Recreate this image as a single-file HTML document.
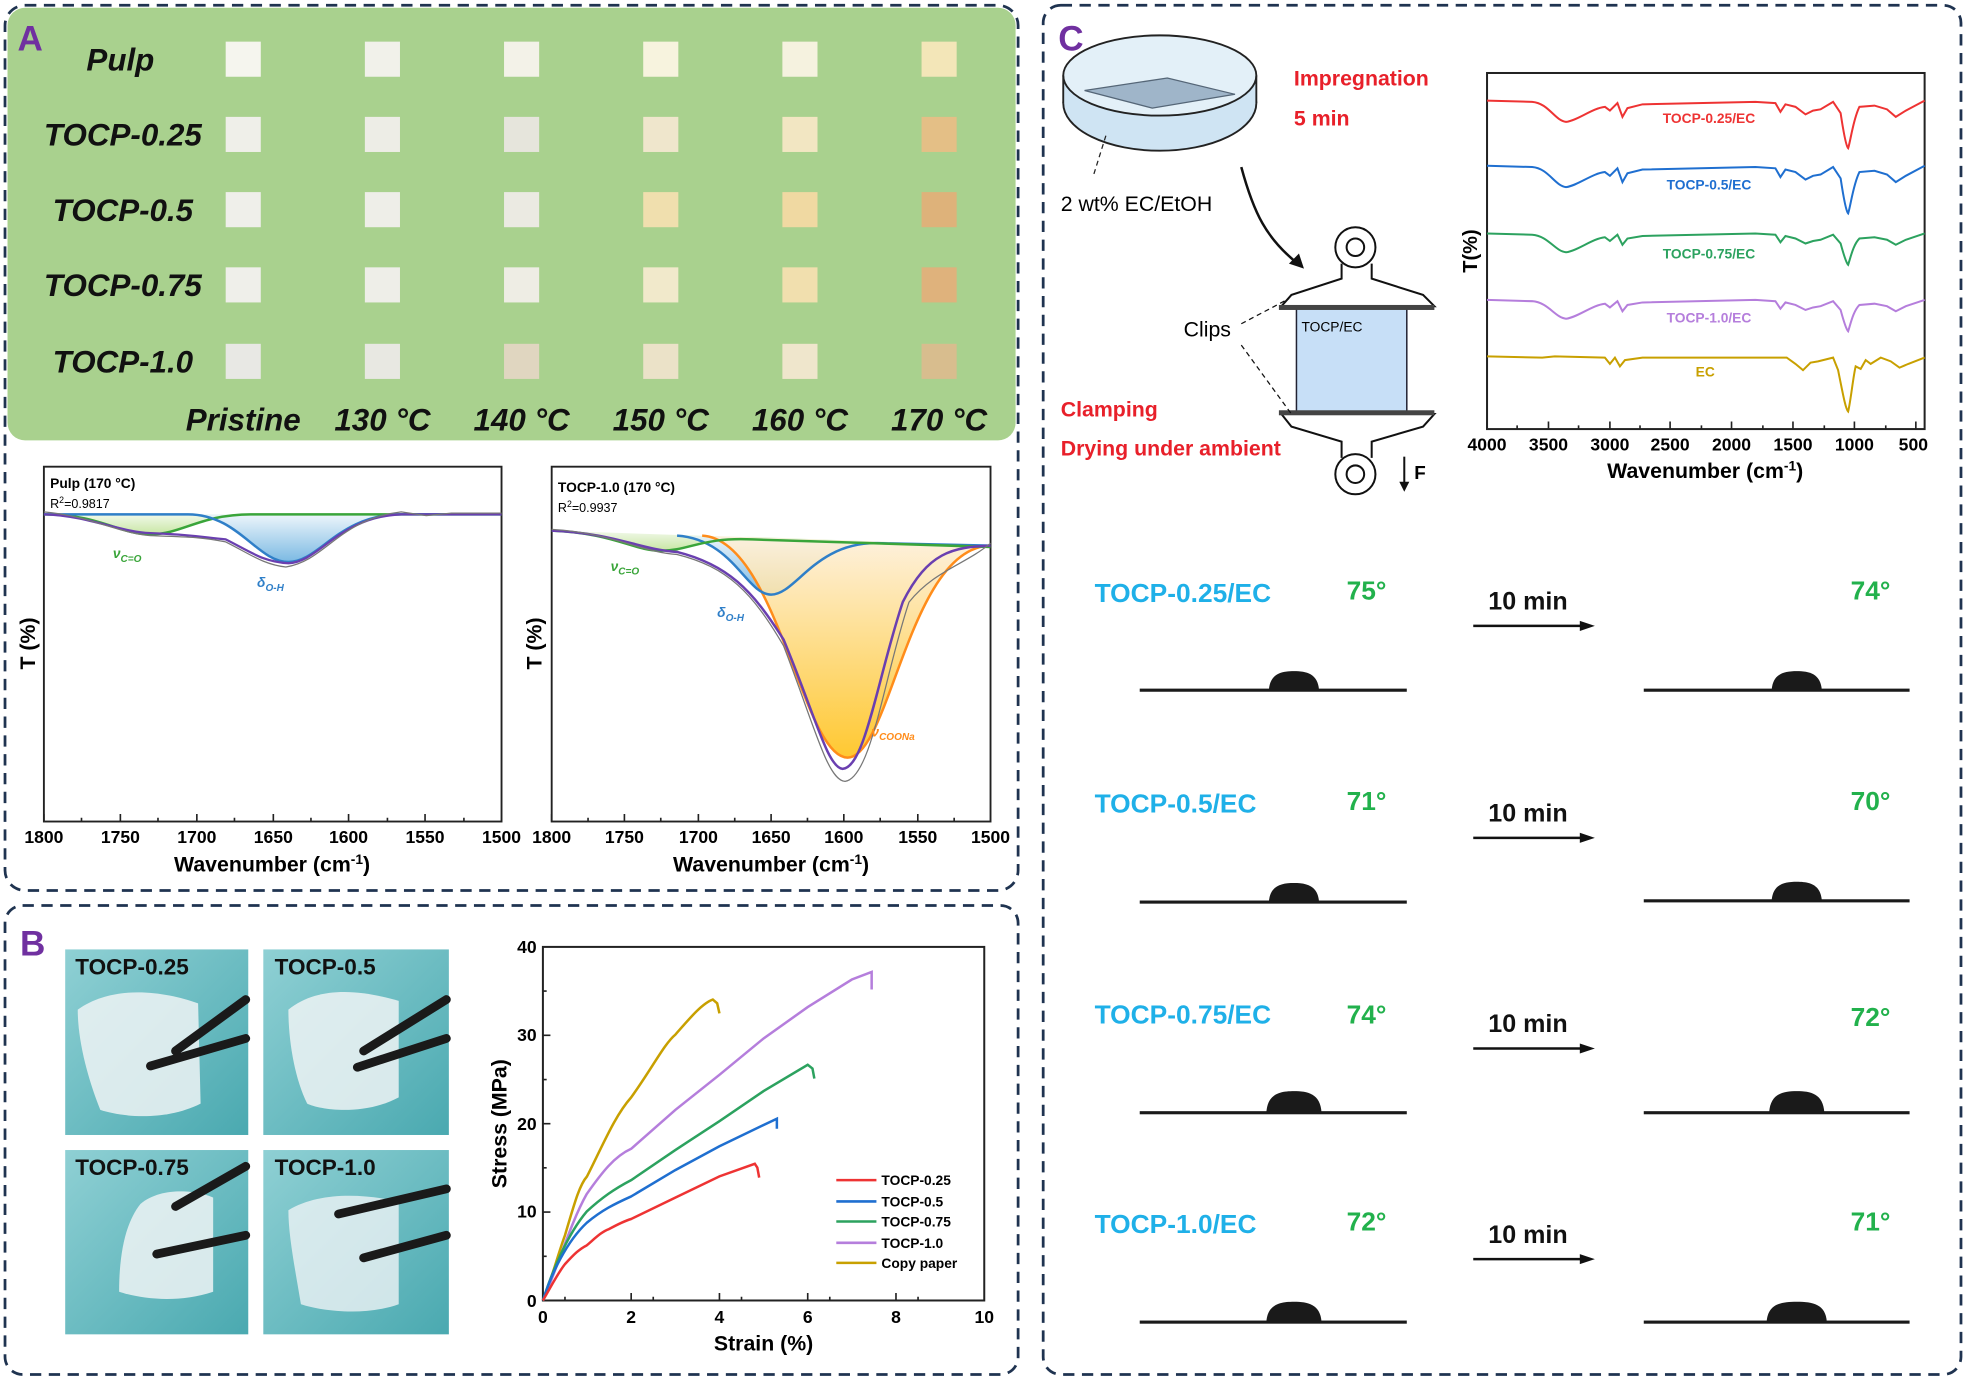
<!DOCTYPE html>
<html><head><meta charset="utf-8"><style>
html,body{margin:0;padding:0;background:#fff}
svg{display:block}
text{font-family:"Liberation Sans",Arial,sans-serif}
</style></head><body>
<svg width="1966" height="1381" viewBox="0 0 1568 1101" xmlns="http://www.w3.org/2000/svg">
<defs>
<linearGradient id="gB" x1="0" y1="0" x2="0" y2="1"><stop offset="0" stop-color="#e8f3fa"/><stop offset="1" stop-color="#5aa8dc"/></linearGradient>
<linearGradient id="gG" x1="0" y1="0" x2="0" y2="1"><stop offset="0" stop-color="#eef7e4"/><stop offset="1" stop-color="#b9e08c"/></linearGradient>
<linearGradient id="gO" x1="0" y1="0" x2="0" y2="1"><stop offset="0" stop-color="#fdf0dc"/><stop offset="1" stop-color="#ffc21a"/></linearGradient>
<linearGradient id="teal" x1="0" y1="0" x2="1" y2="1"><stop offset="0" stop-color="#8fd0d4"/><stop offset="1" stop-color="#4aa9b0"/></linearGradient>
<path id="sp" d="M1186,80 L1222,81 C1235,82 1240,96 1249,97 C1258,96 1270,86 1280,85 L1284,88 L1290,82 L1294,93 L1298,86 L1310,83 L1400,81 L1416,82 L1420,89 L1424,83 L1432,85 L1440,91 L1446,88 L1452,87 L1462,81 L1468,90 C1471,110 1473,117 1474,118 C1476,112 1478,95 1483,85 L1495,84 L1505,87 L1512,93 L1520,88 L1535,80"/>
</defs>
<!-- Panel A -->
<rect x="4" y="4" width="808" height="706" rx="16" fill="none" stroke="#1f3350" stroke-width="2.2" stroke-dasharray="9,6"/>
<rect x="6" y="6" width="804" height="345" rx="14" fill="#a9d18e"/>
<text x="14" y="40" font-size="28" font-weight="bold" fill="#7030a0">A</text>
<g font-size="25" font-weight="bold" font-style="italic" fill="#111" text-anchor="middle">
<text x="96" y="56">Pulp</text><text x="98" y="116">TOCP-0.25</text><text x="98" y="176">TOCP-0.5</text><text x="98" y="236">TOCP-0.75</text><text x="98" y="297">TOCP-1.0</text>
<text x="194" y="343">Pristine</text><text x="305" y="343">130 °C</text><text x="416" y="343">140 °C</text><text x="527" y="343">150 °C</text><text x="638" y="343">160 °C</text><text x="749" y="343">170 °C</text>
</g>
<g>
<rect x="180" y="33" width="28" height="28" fill="#f5f5ee"/><rect x="291" y="33" width="28" height="28" fill="#f1f1ea"/><rect x="402" y="33" width="28" height="28" fill="#f3f2e8"/><rect x="513" y="33" width="28" height="28" fill="#f7f3de"/><rect x="624" y="33" width="28" height="28" fill="#f5f2df"/><rect x="735" y="33" width="28" height="28" fill="#f3e6b8"/>
<rect x="180" y="93" width="28" height="28" fill="#efefe9"/><rect x="291" y="93" width="28" height="28" fill="#ededE6"/><rect x="402" y="93" width="28" height="28" fill="#e6e5dc"/><rect x="513" y="93" width="28" height="28" fill="#efe6cc"/><rect x="624" y="93" width="28" height="28" fill="#f2e6c2"/><rect x="735" y="93" width="28" height="28" fill="#e4bf86"/>
<rect x="180" y="153" width="28" height="28" fill="#efefea"/><rect x="291" y="153" width="28" height="28" fill="#eeeee8"/><rect x="402" y="153" width="28" height="28" fill="#ebeae2"/><rect x="513" y="153" width="28" height="28" fill="#f0dfae"/><rect x="624" y="153" width="28" height="28" fill="#f0d9a2"/><rect x="735" y="153" width="28" height="28" fill="#deb27a"/>
<rect x="180" y="213" width="28" height="28" fill="#efefea"/><rect x="291" y="213" width="28" height="28" fill="#eeeee8"/><rect x="402" y="213" width="28" height="28" fill="#eeede4"/><rect x="513" y="213" width="28" height="28" fill="#f1e9cb"/><rect x="624" y="213" width="28" height="28" fill="#f1dfae"/><rect x="735" y="213" width="28" height="28" fill="#dfb27c"/>
<rect x="180" y="274" width="28" height="28" fill="#e8e8e4"/><rect x="291" y="274" width="28" height="28" fill="#e8e8e2"/><rect x="402" y="274" width="28" height="28" fill="#e0d6c0"/><rect x="513" y="274" width="28" height="28" fill="#ebe2c8"/><rect x="624" y="274" width="28" height="28" fill="#efe6cc"/><rect x="735" y="274" width="28" height="28" fill="#d8bd8e"/>
</g>
<!-- left fit plot -->
<rect x="35" y="372" width="365" height="283" fill="none" stroke="#222" stroke-width="1.5"/>
<path d="M35,410 C80,410 95,426 120,426 C145,426 160,410 200,410 Z" fill="url(#gG)" opacity="0.8"/>
<path d="M150,410 C190,410 205,448 230,448 C255,448 270,410 320,410 Z" fill="url(#gB)" opacity="0.8"/>
<path d="M35,410 C80,410 95,426 120,426 C145,426 160,410 200,410 L400,410" fill="none" stroke="#3aa53a" stroke-width="2"/>
<path d="M35,410 L150,410 C190,410 205,448 230,448 C255,448 270,410 320,410 L400,410" fill="none" stroke="#2f7fc8" stroke-width="2"/>
<path d="M35,410 C70,411 95,424 120,425 C150,426 160,428 180,430 C200,440 210,448 230,449 C255,448 270,412 320,410 L400,410" fill="none" stroke="#6a3fb0" stroke-width="1.8"/>
<path d="M35,408 C70,411 95,425 120,427 C150,428 160,428 180,432 C200,442 210,450 228,452 C260,447 270,414 320,408 L340,411 L360,409 L400,409" fill="none" stroke="#777" stroke-width="1"/>
<text x="40" y="389" font-size="11" font-weight="bold">Pulp (170 °C)</text>
<text x="40" y="405" font-size="10">R<tspan font-size="7" dy="-4">2</tspan><tspan dy="4">=0.9817</tspan></text>
<text x="90" y="445" font-size="11" fill="#3aa53a" font-style="italic" font-weight="bold">ν<tspan font-size="8" dy="3">C=O</tspan></text>
<text x="205" y="468" font-size="11" fill="#2f7fc8" font-style="italic" font-weight="bold">δ<tspan font-size="8" dy="3">O-H</tspan></text>
<!-- right fit plot -->
<rect x="440" y="372" width="350" height="283" fill="none" stroke="#222" stroke-width="1.5"/>
<path d="M440,423 C490,425 505,439 527,439 C550,439 560,428 600,428 L790,435 Z" fill="url(#gG)" opacity="0.8"/>
<path d="M540,427 C585,430 595,474 615,474 C635,474 650,432 700,432 Z" fill="url(#gB)" opacity="0.8"/>
<path d="M560,427 C620,430 640,604 676,604 C710,604 725,436 790,435 Z" fill="url(#gO)" opacity="0.9"/>
<path d="M560,427 C620,430 640,604 676,604 C710,604 725,436 790,435" fill="none" stroke="#ff8c1a" stroke-width="2"/>
<path d="M540,427 C585,430 595,474 615,474 C635,474 650,432 700,433 L790,435" fill="none" stroke="#2f7fc8" stroke-width="2"/>
<path d="M440,423 C490,425 505,439 527,439 C550,439 560,428 600,430 L790,436" fill="none" stroke="#3aa53a" stroke-width="2"/>
<path d="M440,423 C490,425 510,438 540,440 C580,450 600,470 625,510 C650,570 660,612 672,613 C690,612 700,540 720,480 C740,440 760,436 790,435" fill="none" stroke="#6a3fb0" stroke-width="2"/>
<path d="M440,422 C490,425 510,440 540,442 C580,452 600,472 625,515 C650,580 660,622 674,623 C695,620 705,540 725,480 C745,455 770,450 790,433" fill="none" stroke="#777" stroke-width="1"/>
<text x="445" y="392" font-size="11" font-weight="bold">TOCP-1.0 (170 °C)</text>
<text x="445" y="408" font-size="10">R<tspan font-size="7" dy="-4">2</tspan><tspan dy="4">=0.9937</tspan></text>
<text x="487" y="455" font-size="11" fill="#3aa53a" font-style="italic" font-weight="bold">ν<tspan font-size="8" dy="3">C=O</tspan></text>
<text x="572" y="492" font-size="11" fill="#2f7fc8" font-style="italic" font-weight="bold">δ<tspan font-size="8" dy="3">O-H</tspan></text>
<text x="695" y="587" font-size="11" fill="#ff8c1a" font-style="italic" font-weight="bold">ν<tspan font-size="8" dy="3">COONa</tspan></text>
<g stroke="#222" stroke-width="1.3">
<path d="M35,655v-6M65,655v-3M96,655v-6M126,655v-3M157,655v-6M187,655v-3M218,655v-6M248,655v-3M278,655v-6M309,655v-3M339,655v-6M370,655v-3"/>
<path d="M440,655v-6M469,655v-3M498,655v-6M527,655v-3M557,655v-6M586,655v-3M615,655v-6M644,655v-3M673,655v-6M702,655v-3M732,655v-6M761,655v-3"/>
</g>
<g font-size="14" font-weight="bold" text-anchor="middle">
<text x="35" y="672">1800</text><text x="96" y="672">1750</text><text x="157" y="672">1700</text><text x="218" y="672">1650</text><text x="278" y="672">1600</text><text x="339" y="672">1550</text><text x="400" y="672">1500</text>
<text x="440" y="672">1800</text><text x="498" y="672">1750</text><text x="557" y="672">1700</text><text x="615" y="672">1650</text><text x="673" y="672">1600</text><text x="732" y="672">1550</text><text x="790" y="672">1500</text>
<text x="217" y="695" font-size="17">Wavenumber (cm<tspan font-size="11" dy="-6">-1</tspan><tspan dy="6">)</tspan></text>
<text x="615" y="695" font-size="17">Wavenumber (cm<tspan font-size="11" dy="-6">-1</tspan><tspan dy="6">)</tspan></text>
<text transform="translate(28,513) rotate(-90)" font-size="17">T (%)</text>
<text transform="translate(432,513) rotate(-90)" font-size="17">T (%)</text>
</g>
<!-- Panel B -->
<rect x="4" y="722" width="808" height="374" rx="14" fill="none" stroke="#1f3350" stroke-width="2.2" stroke-dasharray="9,6"/>
<text x="16" y="762" font-size="28" font-weight="bold" fill="#7030a0">B</text>
<g>
<rect x="52" y="757" width="146" height="148" fill="url(#teal)"/><rect x="210" y="757" width="148" height="148" fill="url(#teal)"/>
<rect x="52" y="917" width="146" height="147" fill="url(#teal)"/><rect x="210" y="917" width="148" height="147" fill="url(#teal)"/>
<path d="M62,805 C90,785 130,790 158,800 L160,880 C130,895 95,890 80,885 C70,860 62,830 62,805Z" fill="#eef3f5" opacity="0.85"/>
<path d="M230,805 C255,785 290,790 318,798 L318,875 C290,890 255,885 245,880 C235,860 230,830 230,805Z" fill="#eef3f5" opacity="0.85"/>
<path d="M112,960 C130,945 160,950 170,955 L170,1030 C140,1040 110,1035 95,1030 C95,1000 100,975 112,960Z" fill="#eef3f5" opacity="0.85"/>
<path d="M230,965 C255,950 290,952 318,958 L318,1040 C290,1050 255,1045 240,1040 C235,1010 230,985 230,965Z" fill="#eef3f5" opacity="0.8"/>
<g stroke="#1a1a1a" stroke-width="7" stroke-linecap="round">
<path d="M140,838 L196,797M120,850 L196,828M290,838 L356,797M285,851 L356,828M140,962 L196,930M125,1000 L196,985M270,968 L356,948M290,1003 L356,985"/>
</g>
<g font-size="18" font-weight="bold" fill="#111"><text x="60" y="777">TOCP-0.25</text><text x="219" y="777">TOCP-0.5</text><text x="60" y="937">TOCP-0.75</text><text x="219" y="937">TOCP-1.0</text></g>
</g>
<!-- stress strain -->
<rect x="433" y="755" width="352" height="282" fill="none" stroke="#222" stroke-width="1.6"/>
<g stroke="#222" stroke-width="1.3">
<path d="M433,1037v-6M450.6,1037v-3M503.4,1037v-6M521,1037v-3M573.8,1037v-6M591.4,1037v-3M644.2,1037v-6M661.8,1037v-3M714.6,1037v-6M732.2,1037v-3"/>
<path d="M433,1037h6M433,1001.8h3M433,966.5h6M433,931.2h3M433,896h6M433,860.8h3M433,825.5h6M433,790.2h3"/>
</g>
<g font-size="14" font-weight="bold" text-anchor="middle">
<text x="433" y="1055">0</text><text x="503.4" y="1055">2</text><text x="573.8" y="1055">4</text><text x="644.2" y="1055">6</text><text x="714.6" y="1055">8</text><text x="785" y="1055">10</text>
<text x="609" y="1077" font-size="17">Strain (%)</text>
</g>
<g font-size="14" font-weight="bold" text-anchor="end">
<text x="428" y="1042">0</text><text x="428" y="971">10</text><text x="428" y="901">20</text><text x="428" y="830">30</text><text x="428" y="760">40</text>
<text transform="translate(404,896) rotate(-90)" font-size="17" text-anchor="middle">Stress (MPa)</text>
</g>
<g fill="none" stroke-width="2">
<path d="M433,1037 C440,1020 445,1000 450.6,985 C458,960 462,945 468.2,938 C480,915 490,890 503.4,875 C520,852 530,832 538.6,825 C550,812 560,800 568.5,797 L572,800 L573.8,808" stroke="#c8a000"/>
<path d="M433,1037 C445,1010 455,975 468,952 C480,935 490,922 503.4,916 L538.6,885 L573.8,857 L609,828 L644.2,803 L679.4,781 L695.2,775 L695.2,789" stroke="#b57edc"/>
<path d="M433,1037 C440,1015 452,985 468,966 C480,955 490,948 503.4,941 L538.6,917 L573.8,894 L609,870 L644.2,849 L648,852 L649.5,860" stroke="#2ca25f"/>
<path d="M433,1037 C440,1015 452,990 468,975 C480,965 490,960 503.4,954 L538.6,933 L573.8,914 L609,897 L619.6,892 L619.6,900" stroke="#1f6fd0"/>
<path d="M433,1037 C440,1025 445,1015 450.6,1008 C458,1000 462,996 468,993 C475,987 480,982 485.8,980 C495,975 500,973 503.4,972 L538.6,955 L573.8,938 L602,928 L604,931 L605.5,939" stroke="#ee3333"/>
</g>
<g font-size="11" font-weight="bold">
<line x1="667" y1="941" x2="699" y2="941" stroke="#ee3333" stroke-width="2"/><text x="703" y="945">TOCP-0.25</text>
<line x1="667" y1="958" x2="699" y2="958" stroke="#1f6fd0" stroke-width="2"/><text x="703" y="962">TOCP-0.5</text>
<line x1="667" y1="974" x2="699" y2="974" stroke="#2ca25f" stroke-width="2"/><text x="703" y="978">TOCP-0.75</text>
<line x1="667" y1="991" x2="699" y2="991" stroke="#b57edc" stroke-width="2"/><text x="703" y="995">TOCP-1.0</text>
<line x1="667" y1="1007" x2="699" y2="1007" stroke="#c8a000" stroke-width="2"/><text x="703" y="1011">Copy paper</text>
</g>
<!-- Panel C -->
<rect x="832" y="4" width="732" height="1092" rx="14" fill="none" stroke="#1f3350" stroke-width="2.2" stroke-dasharray="9,6"/>
<text x="844" y="40" font-size="28" font-weight="bold" fill="#7030a0">C</text>
<ellipse cx="925" cy="82" rx="77" ry="38" fill="#cfe4f3" stroke="#222" stroke-width="1.5"/>
<rect x="848" y="60" width="154" height="22" fill="#cfe4f3"/>
<ellipse cx="925" cy="60" rx="77" ry="32" fill="#e3f0f8" stroke="#222" stroke-width="1.5"/>
<line x1="848" y1="60" x2="848" y2="82" stroke="#222" stroke-width="1.5"/><line x1="1002" y1="60" x2="1002" y2="82" stroke="#222" stroke-width="1.5"/>
<polygon points="865,72 931,62 985,75 919,86" fill="#9fb5c9" stroke="#567" stroke-width="1"/>
<line x1="882" y1="108" x2="872" y2="140" stroke="#222" stroke-dasharray="4,3"/>
<text x="846" y="168" font-size="17">2 wt% EC/EtOH</text>
<text x="1032" y="68" font-size="17" font-weight="bold" fill="#e8202a">Impregnation</text>
<text x="1032" y="100" font-size="17" font-weight="bold" fill="#e8202a">5 min</text>
<path d="M990,133 C1000,170 1010,190 1035,210" fill="none" stroke="#111" stroke-width="2"/>
<polygon points="1040,214 1028,210 1036,202" fill="#111"/>
<g fill="#fff" stroke="#111" stroke-width="1.6">
<path d="M1070,210 L1070,222 L1030,235 L1022,244 L1144,244 L1135,235 L1094,222 L1094,210"/>
<circle cx="1081" cy="197" r="16"/><circle cx="1081" cy="197" r="7"/>
<path d="M1070,365 L1070,352 L1030,340 L1022,330 L1144,330 L1135,340 L1094,352 L1094,365"/>
<circle cx="1081" cy="378" r="16"/><circle cx="1081" cy="378" r="7"/>
</g>
<rect x="1034" y="244" width="88" height="86" fill="#c7dff7" stroke="#223" stroke-width="1.2"/>
<rect x="1020" y="243" width="124" height="4" fill="#444"/><rect x="1020" y="327" width="124" height="4" fill="#444"/>
<text x="1038" y="264" font-size="11">TOCP/EC</text>
<text x="944" y="268" font-size="17">Clips</text>
<path d="M990,258 L1028,238 M990,275 L1030,330" stroke="#111" stroke-dasharray="4,3"/>
<line x1="1120" y1="364" x2="1120" y2="390" stroke="#111" stroke-width="1.6"/><polygon points="1116,384 1124,384 1120,392" fill="#111"/>
<text x="1128" y="382" font-size="15" font-weight="bold">F</text>
<text x="846" y="332" font-size="17" font-weight="bold" fill="#e8202a">Clamping</text>
<text x="846" y="363" font-size="17" font-weight="bold" fill="#e8202a">Drying under ambient</text>
<!-- FTIR -->
<rect x="1186" y="58" width="349" height="284" fill="none" stroke="#222" stroke-width="1.6"/>
<g stroke="#222" stroke-width="1.3">
<path d="M1186,342v-6M1210,342v-3M1235,342v-6M1259,342v-3M1284,342v-6M1308,342v-3M1332,342v-6M1357,342v-3M1381,342v-6M1406,342v-3M1430,342v-6M1455,342v-3M1479,342v-6M1504,342v-3M1528,342v-6"/>
</g>
<g font-size="14" font-weight="bold" text-anchor="middle">
<text x="1186" y="359">4000</text><text x="1235" y="359">3500</text><text x="1284" y="359">3000</text><text x="1332" y="359">2500</text><text x="1381" y="359">2000</text><text x="1430" y="359">1500</text><text x="1479" y="359">1000</text><text x="1526" y="359">500</text>
<text x="1360" y="381" font-size="17">Wavenumber (cm<tspan font-size="11" dy="-6">-1</tspan><tspan dy="6">)</tspan></text>
<text transform="translate(1178,200) rotate(-90)" font-size="16" text-anchor="middle">T(%)</text>
</g>
<g fill="none" stroke-width="1.6">
<use href="#sp" stroke="#ee3333"/>
<use href="#sp" transform="translate(0,52)" stroke="#1f6fd0"/>
<path d="M1186,186 L1222,187 C1235,188 1240,200 1249,201 C1258,200 1270,190 1280,189 L1284,192 L1290,187 L1294,195 L1298,190 L1310,188 L1400,186 L1416,187 L1420,193 L1424,188 L1432,190 L1440,194 L1446,192 L1452,191 L1462,187 L1468,194 C1471,205 1473,210 1474,211 C1476,205 1478,195 1483,190 L1495,189 L1505,191 L1512,195 L1520,191 L1535,186" stroke="#2ca25f"/>
<path d="M1186,239 L1222,240 C1235,241 1240,253 1249,254 C1258,253 1270,243 1280,242 L1284,245 L1290,240 L1294,248 L1298,243 L1310,241 L1400,239 L1416,240 L1420,246 L1424,241 L1432,243 L1440,247 L1446,245 L1452,244 L1462,240 L1468,247 C1471,258 1473,263 1474,264 C1476,258 1478,248 1483,243 L1495,242 L1505,244 L1512,248 L1520,244 L1535,239" stroke="#b57edc"/>
<path d="M1186,284 L1230,285 L1240,284 L1280,285 L1284,290 L1288,285 L1292,292 L1296,287 L1310,285 L1425,285 L1432,290 L1438,295 L1444,289 L1450,288 L1462,285 L1466,295 C1470,315 1472,326 1474,328 C1476,320 1478,300 1480,292 L1484,294 L1488,287 L1492,290 L1500,285 L1508,288 L1515,293 L1522,290 L1535,285" stroke="#c8a000"/>
</g>
<g font-size="11" font-weight="bold" text-anchor="middle">
<text x="1363" y="98" fill="#ee3333">TOCP-0.25/EC</text>
<text x="1363" y="151" fill="#1f6fd0">TOCP-0.5/EC</text>
<text x="1363" y="206" fill="#2ca25f">TOCP-0.75/EC</text>
<text x="1363" y="257" fill="#b57edc">TOCP-1.0/EC</text>
<text x="1360" y="300" fill="#c8a000">EC</text>
</g>
<g font-size="21" font-weight="bold">
<g fill="#1fb0e8"><text x="873" y="480">TOCP-0.25/EC</text><text x="873" y="648">TOCP-0.5/EC</text><text x="873" y="816">TOCP-0.75/EC</text><text x="873" y="983">TOCP-1.0/EC</text></g>
<g fill="#22b14c"><text x="1074" y="478">75°</text><text x="1074" y="646">71°</text><text x="1074" y="816">74°</text><text x="1074" y="981">72°</text>
<text x="1476" y="478">74°</text><text x="1476" y="646">70°</text><text x="1476" y="818">72°</text><text x="1476" y="981">71°</text></g>
<g fill="#111" font-size="20"><text x="1187" y="486">10 min</text><text x="1187" y="655">10 min</text><text x="1187" y="823">10 min</text><text x="1187" y="991">10 min</text></g>
</g>
<g stroke="#111" stroke-width="2" fill="#111">
<line x1="1175" y1="499" x2="1262" y2="499"/><polygon points="1272,499 1260,495 1260,503" stroke="none"/>
<line x1="1175" y1="668" x2="1262" y2="668"/><polygon points="1272,668 1260,664 1260,672" stroke="none"/>
<line x1="1175" y1="836" x2="1262" y2="836"/><polygon points="1272,836 1260,832 1260,840" stroke="none"/>
<line x1="1175" y1="1004" x2="1262" y2="1004"/><polygon points="1272,1004 1260,1000 1260,1008" stroke="none"/>
</g>
<g fill="#1a1a1a">
<rect x="909" y="549" width="213" height="2.5"/><path d="M1012,550 C1013,537 1022,535 1032,535 C1042,535 1051,537 1052,550Z"/>
<rect x="1311" y="549" width="212" height="2.5"/><path d="M1413,550 C1414,537 1423,535 1433,535 C1443,535 1452,537 1453,550Z"/>
<rect x="909" y="718" width="213" height="2.5"/><path d="M1012,719 C1013,706 1022,704 1032,704 C1042,704 1051,706 1052,719Z"/>
<rect x="1311" y="717" width="212" height="2.5"/><path d="M1413,718 C1414,705 1423,703 1433,703 C1443,703 1452,705 1453,718Z"/>
<rect x="909" y="886" width="213" height="2.5"/><path d="M1010,887 C1011,872 1021,870 1032,870 C1043,870 1053,872 1054,887Z"/>
<rect x="1311" y="886" width="212" height="2.5"/><path d="M1411,887 C1412,872 1422,870 1433,870 C1444,870 1454,872 1455,887Z"/>
<rect x="909" y="1053" width="213" height="2.5"/><path d="M1010,1054 C1011,1040 1021,1038 1032,1038 C1043,1038 1053,1040 1054,1054Z"/>
<rect x="1311" y="1053" width="212" height="2.5"/><path d="M1409,1054 C1410,1040 1420,1038 1433,1038 C1446,1038 1456,1040 1457,1054Z"/>
</g>
</svg>
</body></html>
